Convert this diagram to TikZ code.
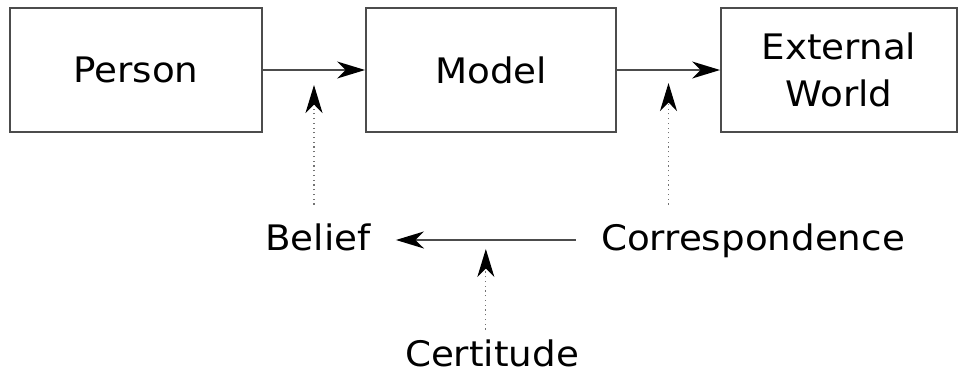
\documentclass[tikz,border=0pt]{standalone}
\usepackage{fontspec}
\setmainfont{DejaVu Sans}[FakeStretch=1.06]
\usetikzlibrary{arrows.meta,positioning}

\begin{document}
\begin{tikzpicture}[x=0.02cm, y=-0.02cm,
    box/.style={draw=black!70, line width=1.1pt, inner sep=0pt, align=center,
        minimum height=2.48cm, font=\fontsize{20}{26.7}\selectfont},
    lbl/.style={inner xsep=0.5cm, inner ysep=0pt, anchor=base,
        text height=11.4pt, text depth=0pt, font=\fontsize{20}{25}\selectfont},
    link/.style={draw=black!70, line width=1.1pt,
        -{Stealth[length=0.56cm, width=0.34cm, inset=0.17cm, color=black]}},
    hint/.style={draw=black!55, dotted, line width=0.7pt,
        -{Stealth[length=0.56cm, width=0.34cm, inset=0.17cm, color=black]}}]
    % Canvas
    \useasboundingbox (0, 0) rectangle (959, 376);

    % Top row of boxes
    \node[box, minimum width=5.04cm] (person) at (136, 70) {Person};
    \node[box, minimum width=5.00cm] (model) at (491, 70) {Model};
    \node[box, minimum width=4.72cm] (world) at (839, 70) {External\\World};

    % Bottom labels (placed on their baselines)
    \node[lbl] (belief) at (318, 250) {Belief};
    \node[lbl] (corr) at (753, 250) {Correspondence};
    \node[lbl] (cert) at (492, 366) {Certitude};

    % Main arrows
    \draw[link] (person) -- (model) coordinate[midway] (mpm);
    \draw[link] (model) -- (world) coordinate[midway] (mmw);
    \draw[link] (corr.west) -- (belief.east) coordinate[midway] (mcb);

    % Dotted pointers
    \draw[hint, shorten <=0.5cm, shorten >=0.3cm] (belief.north -| mpm) -- (mpm);
    \draw[hint, shorten <=0.5cm, shorten >=0.26cm] (corr.north -| mmw) -- (mmw);
    \draw[hint, shorten <=0.32cm, shorten >=0.18cm] (cert.north -| mcb) -- (mcb);
\end{tikzpicture}
\end{document}
